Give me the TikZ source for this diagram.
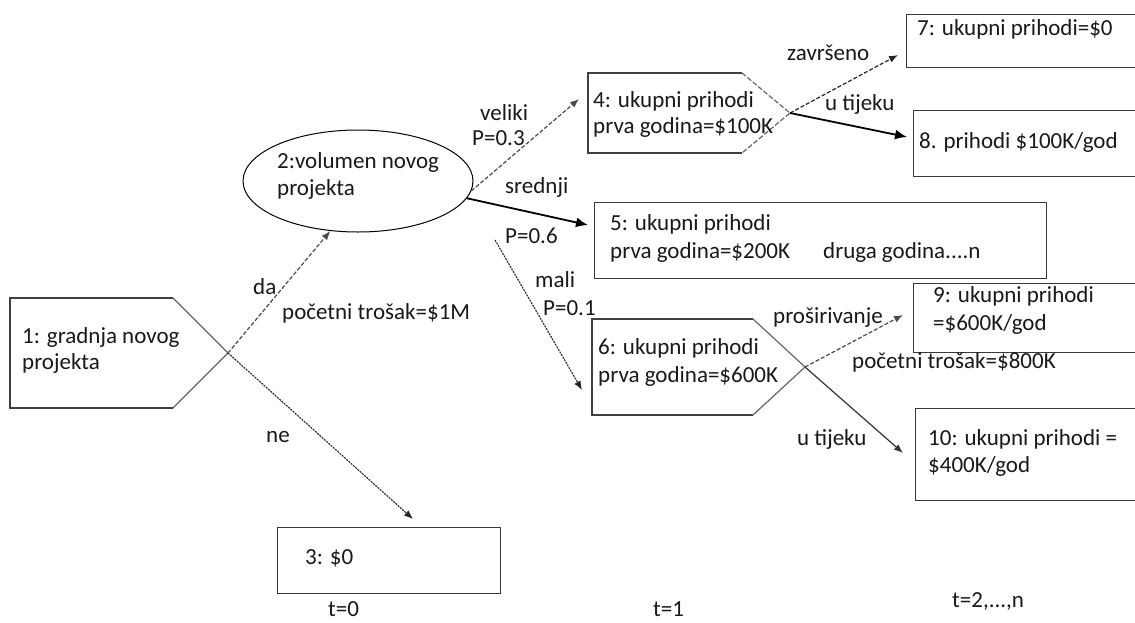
\documentclass[tikz,border=0pt]{standalone}
\usepackage{fontspec}
\setmainfont{Carlito}
\usetikzlibrary{arrows.meta,shapes.geometric}
\begin{document}
\begin{tikzpicture}[x=1pt,y=-1pt,
  txt/.style={anchor=base west, inner sep=0pt, font=\fontsize{23pt}{26pt}\selectfont, text=black!90},
  box/.style={draw=black!78, line width=1.3pt, inner sep=0pt, anchor=north west},
  outline/.style={draw=black!75, line width=1.3pt},
  slant/.style={draw=black!60, line width=1.2pt},
  thinhead/.style={-{Latex[length=9pt,width=7pt]}},
  bighead/.style={-{Latex[length=12pt,width=10pt]}},
  dashconn/.style={thinhead, draw=black!70, line width=1.2pt, dash pattern=on 4pt off 2pt},
  dotconn/.style={thinhead, draw=black!85, line width=1.1pt, dash pattern=on 2pt off 1pt},
  solidconn/.style={bighead, draw=black, line width=1.8pt},
  plainconn/.style={thinhead, draw=black!80, line width=1.2pt}
]
\useasboundingbox (0,0) rectangle (1135,622);
\fill[white] (0,0) rectangle (1135,622);
\clip (0,0) rectangle (1135,622);

% ---- node 1 (pentagon) ----
\coordinate (t1) at (228,353);
\draw[outline] (173,298) -- (10,298) -- (10,408) -- (173,408);
\draw[slant] (173,298) -- (t1) -- (173,408);
\node[txt] (l1a) at (22,343) {1: gradnja novog};
\node[txt] (l1b) at (22,369) {projekta};

% ---- node 2 (ellipse) ----
\node[draw=black, ellipse, line width=1pt, minimum width=230pt, minimum height=102pt, inner sep=0pt] (n2) at (358,181) {};
\node[txt] (l2a) at (277,168) {2:volumen novog};
\node[txt] (l2b) at (277,195) {projekta};

% ---- node 3 ----
\node[box, minimum width=223pt, minimum height=66pt] (n3) at (277,527) {};
\node[txt] (l3) at (305,564) {3: \$0};

% ---- node 4 (pentagon, dashed point) ----
\coordinate (t4) at (790,113);
\draw[outline] (742,73) -- (588,73) -- (588,153) -- (742,153);
\draw[slant, dash pattern=on 5pt off 2pt] (742,73) -- (t4) -- (742,153);
\node[txt] (l4a) at (593,107) {4: ukupni prihodi};
\node[txt] (l4b) at (593,133) {prva godina=\$100K};

% ---- node 5 ----
\node[box, minimum width=452pt, minimum height=76pt] (n5) at (594,202) {};
\node[txt] (l5a) at (610,230) {5: ukupni prihodi};
\node[txt] (l5b) at (610,258) {prva godina=\$200K};
\node[txt] (l5c) at (823,258) {druga godina....n};

% ---- node 6 (pentagon) ----
\coordinate (t6) at (805,367);
\draw[outline] (753,319) -- (592,319) -- (592,415) -- (753,415);
\draw[slant] (753,319) -- (t6) -- (753,415);
\node[txt] (l6a) at (598,354) {6: ukupni prihodi};
\node[txt] (l6b) at (598,382) {prva godina=\$600K};

% ---- nodes 7..10 ----
\node[box, minimum width=240pt, minimum height=53pt] (n7) at (906,14) {};
\node[txt] (l7) at (917,35) {7: ukupni prihodi=\$0};
\node[box, minimum width=240pt, minimum height=66pt] (n8) at (913,110) {};
\node[txt] (l8) at (919,148) {8. prihodi \$100K/god};
\node[box, minimum width=240pt, minimum height=69pt] (n9) at (913,283) {};
\node[txt] (l9a) at (933,302) {9: ukupni prihodi};
\node[txt] (l9b) at (933,330) {=\$600K/god};
\node[box, minimum width=240pt, minimum height=92pt] (n10) at (915,408) {};
\node[txt] (l10a) at (928,445) {10: ukupni prihodi =};
\node[txt] (l10b) at (928,472) {\$400K/god};

% ---- arrow end points ----
\coordinate (a3) at (413,519);
\coordinate (a4) at (579,99);
\coordinate (a5) at (588,225);
\coordinate (m0) at (495,240);
\coordinate (a6) at (582,390);
\coordinate (a7) at (898,55);
\coordinate (a8) at (907,137);
\coordinate (a9) at (903,315);
\coordinate (a10) at (903,453);

% ---- connectors ----
\draw[dashconn] (t1) -- (n2.241);
\draw[dotconn] (t1) -- (a3);
\draw[dashconn] (n2.-5) -- (a4);
\draw[solidconn] (n2.-9) -- (a5);
\draw[dotconn] (m0) -- (a6);
\draw[dashconn, draw=black!85] (t4) -- (a7);
\draw[solidconn] (t4) -- (a8);
\draw[dashconn] (t6) -- (a9);
\draw[plainconn] (t6) -- (a10);

% ---- connector labels ----
\node[txt] (lda) at (253,294) {da};
\node[txt] (lpt1) at (282,319) {početni trošak=\$1M};
\node[txt] (lne) at (266,442) {ne};
\node[txt] (lvel) at (480,120) {veliki};
\node[txt] (lp3) at (472,145) {P=0.3};
\node[txt] (lsre) at (505,193) {srednji};
\node[txt] (lp6) at (505,243) {P=0.6};
\node[txt] (lmal) at (535,287) {mali};
\node[txt] (lp1) at (543,315) {P=0.1};
\node[txt] (lzav) at (787,60) {završeno};
\node[txt] (lut1) at (825,110) {u tijeku};
\node[txt] (lpro) at (773,323) {proširivanje};
\node[txt] (lpt2) at (852,368) {početni trošak=\$800K};
\node[txt] (lut2) at (797,445) {u tijeku};

% ---- time labels ----
\node[txt] (tt0) at (328,616) {t=0};
\node[txt] (tt1) at (653,616) {t=1};
\node[txt] (tt2) at (952,607) {t=2,...,n};
\end{tikzpicture}
\end{document}
